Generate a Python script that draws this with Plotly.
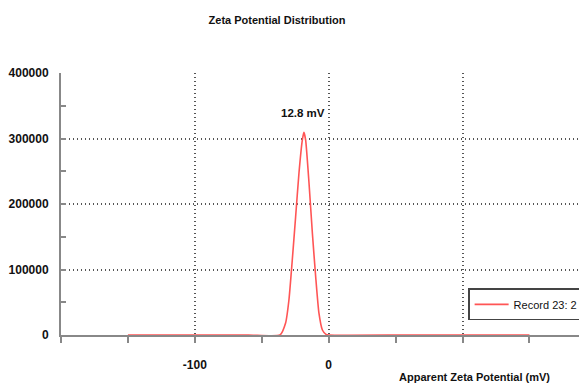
import plotly.graph_objects as go

# Data
zeta_mv = [-150, -60, -36.4, -32.2, -29.7, -27.2, -24.7, -22.2, -19.7, -18.5,
           -17.2, -14.7, -12.2, -9.7, -7.3, -4.7, -2.0, 0, 60, 150]
counts = [0, 0, 0, 18300, 53400, 114500, 180600, 247300, 297700, 309500,
          297700, 232000, 155700, 88500, 33600, 7600, 1000, 0, 0, 0]
series_name = "Record 23: 2"
peak_label = "12.8 mV"
peak_pos = (-19.4, 339000)
x_major = [-100, 0, 100]
x_major_text = ["-100", "0", ""]
y_major = [0, 100000, 200000, 300000, 400000]
y_major_text = ["0", "100000", "200000", "300000", "400000"]

FONT = "Liberation Sans, Arial, sans-serif"

fig = go.Figure()
fig.add_trace(go.Scatter(x=zeta_mv, y=counts, mode="lines", name=series_name,
                         line=dict(color="#ff5555", width=1.6, shape="spline", smoothing=0.5)))

fig.add_annotation(x=peak_pos[0], y=peak_pos[1], text="<b>" + peak_label + "</b>",
                   showarrow=False, font=dict(family=FONT, size=11.5, color="#111"))
fig.add_annotation(xref="paper", yref="paper", x=0.787, y=-0.16, xanchor="center",
                   yanchor="middle",
                   text="<b>Apparent Zeta Potential (mV)</b>", showarrow=False,
                   font=dict(family=FONT, size=11, color="#111"))

# page body has an 8px margin, so the figure is drawn at (8, 8)
fig.update_layout(
    width=579, height=375,
    margin=dict(l=53, r=0, t=65, b=48, autoexpand=False),
    paper_bgcolor="white", plot_bgcolor="white",
    title=dict(text="<b>Zeta Potential Distribution</b>", x=0.4646, xanchor="center",
               y=0.968, yanchor="middle", font=dict(family=FONT, size=11, color="#111")),
    showlegend=True,
    legend=dict(x=0.774, y=0.178, xanchor="left", yanchor="top",
                bgcolor="white", bordercolor="#444", borderwidth=1.5,
                font=dict(family=FONT, size=11, color="#111"), itemwidth=34),
    font=dict(family=FONT),
)
fig.update_xaxes(range=[-200, 193], tickvals=x_major,
                 ticktext=["<b>%s</b>" % t if t else "" for t in x_major_text],
                 showgrid=True, gridcolor="#555", griddash="1px,3px", gridwidth=1.5,
                 ticks="outside", ticklen=6, tickwidth=1.5, tickcolor="#888",
                 minor=dict(dtick=50, tick0=0, ticks="outside", ticklen=6, tickwidth=1.5,
                            tickcolor="#888", showgrid=False),
                 showline=True, linecolor="#888", linewidth=2, zeroline=False,
                 ticklabelstandoff=12, automargin=False,
                 tickfont=dict(family=FONT, size=12, color="#111"))
fig.update_yaxes(range=[0, 400000], tickvals=y_major,
                 ticktext=["<b>%s</b>" % t for t in y_major_text],
                 showgrid=True, gridcolor="#555", griddash="1px,3px", gridwidth=1.5,
                 ticks="inside", ticklen=5, tickwidth=1.5, tickcolor="#888",
                 minor=dict(dtick=50000, tick0=0, ticks="inside", ticklen=5, tickwidth=1.5,
                            tickcolor="#888", showgrid=False),
                 showline=True, linecolor="#888", linewidth=2, zeroline=False,
                 ticklabelstandoff=8, automargin=False,
                 tickfont=dict(family=FONT, size=12, color="#111"))

fig.write_html("out.html")
